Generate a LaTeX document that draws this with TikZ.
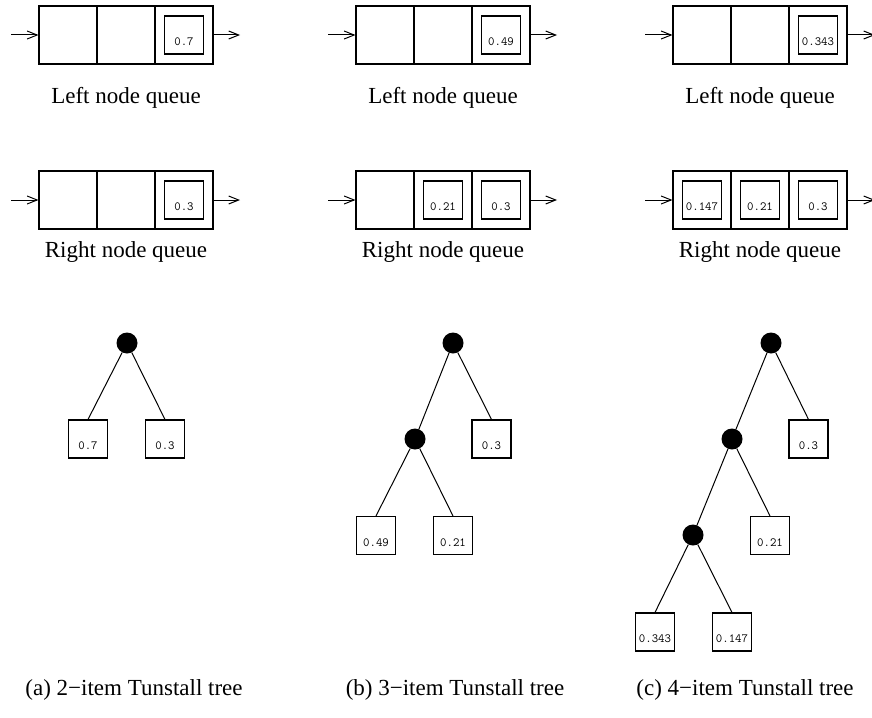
\documentclass[tikz,border=0pt]{standalone}
\usepackage{fontspec}
\setmainfont{Liberation Serif}
\usetikzlibrary{arrows.meta}
\tikzset{
  cell/.style={draw, line width=1.1pt, minimum width=58pt, minimum height=58pt, inner sep=0pt},
  vbox/.style={draw, line width=1.1pt, minimum width=39pt, minimum height=38pt, inner sep=0pt,
    label={[val, yshift=-7pt]center:#1}},
  val/.style={font=\ttfamily\fontsize{12.5}{14}\selectfont, inner sep=0pt},
  inner/.style={circle, fill=black, minimum size=21pt, inner sep=0pt},
  edge/.style={line width=1pt},
  arr/.style={line width=1pt, -{Straight Barb[length=10pt, width=8pt, line width=1pt]}},
  qlabel/.style={font=\fontsize{23}{27}\selectfont, inner sep=0pt},
  caption/.style={font=\fontsize{23}{27}\selectfont, inner sep=0pt}
}
\begin{document}
\begin{tikzpicture}[x=1pt, y=-1pt]
\useasboundingbox (0,0) rectangle (872,717);

% ===== (a) =====
\node[cell] (aL1) at (68,35) {};
\node[cell] (aL2) at (126,35) {};
\node[cell] (aL3) at (184,35) {};
\node[vbox=0.7] (aLv3) at (184,35) {};
\coordinate (aLin) at (11,35);
\coordinate (aLout) at (240,35);
\draw[arr] (aLin) -- (aL1.west);
\draw[arr] (aL3.east) -- (aLout);
\node[qlabel] (aLlab) at (126,98) {Left node queue};

\node[cell] (aR1) at (68,200) {};
\node[cell] (aR2) at (126,200) {};
\node[cell] (aR3) at (184,200) {};
\node[vbox=0.3] (aRv3) at (184,200) {};
\coordinate (aRin) at (11,200);
\coordinate (aRout) at (240,200);
\draw[arr] (aRin) -- (aR1.west);
\draw[arr] (aR3.east) -- (aRout);
\node[qlabel] (aRlab) at (126,252) {Right node queue};

\node[inner] (ar) at (127,343) {};
\node[vbox=0.7] (aa) at (88,439) {};
\node[vbox=0.3] (ab) at (165,439) {};
\draw[edge] (ar) -- (aa.north);
\draw[edge] (ar) -- (ab.north);
\node[caption] (acap) at (134,690) {(a) 2−item Tunstall tree};

% ===== (b) =====
\node[cell] (bL1) at (385,35) {};
\node[cell] (bL2) at (443,35) {};
\node[cell] (bL3) at (501,35) {};
\node[vbox=0.49] (bLv3) at (501,35) {};
\coordinate (bLin) at (328,35);
\coordinate (bLout) at (557,35);
\draw[arr] (bLin) -- (bL1.west);
\draw[arr] (bL3.east) -- (bLout);
\node[qlabel] (bLlab) at (443,98) {Left node queue};

\node[cell] (bR1) at (385,200) {};
\node[cell] (bR2) at (443,200) {};
\node[cell] (bR3) at (501,200) {};
\node[vbox=0.21] (bRv2) at (443,200) {};
\node[vbox=0.3] (bRv3) at (501,200) {};
\coordinate (bRin) at (328,200);
\coordinate (bRout) at (557,200);
\draw[arr] (bRin) -- (bR1.west);
\draw[arr] (bR3.east) -- (bRout);
\node[qlabel] (bRlab) at (443,252) {Right node queue};

\node[inner] (br) at (453,343) {};
\node[inner] (bi) at (415,439) {};
\node[vbox=0.3] (bc) at (491.5,439) {};
\node[vbox=0.49] (ba) at (376,535.5) {};
\node[vbox=0.21] (bb) at (453,535.5) {};
\draw[edge] (br) -- (bi);
\draw[edge] (br) -- (bc.north);
\draw[edge] (bi) -- (ba.north);
\draw[edge] (bi) -- (bb.north);
\node[caption] (bcap) at (455,690) {(b) 3−item Tunstall tree};

% ===== (c) =====
\node[cell] (cL1) at (702,35) {};
\node[cell] (cL2) at (760,35) {};
\node[cell] (cL3) at (818,35) {};
\node[vbox=0.343] (cLv3) at (818,35) {};
\coordinate (cLin) at (645,35);
\coordinate (cLout) at (875,35);
\draw[arr] (cLin) -- (cL1.west);
\draw[arr] (cL3.east) -- (cLout);
\node[qlabel] (cLlab) at (760,98) {Left node queue};

\node[cell] (cR1) at (702,200) {};
\node[cell] (cR2) at (760,200) {};
\node[cell] (cR3) at (818,200) {};
\node[vbox=0.147] (cRv1) at (702,200) {};
\node[vbox=0.21] (cRv2) at (760,200) {};
\node[vbox=0.3] (cRv3) at (818,200) {};
\coordinate (cRin) at (645,200);
\coordinate (cRout) at (875,200);
\draw[arr] (cRin) -- (cR1.west);
\draw[arr] (cR3.east) -- (cRout);
\node[qlabel] (cRlab) at (760,252) {Right node queue};

\node[inner] (cr) at (771,343) {};
\node[inner] (ci1) at (732,439) {};
\node[inner] (ci2) at (693,535) {};
\node[vbox=0.3] (cd) at (808.5,439) {};
\node[vbox=0.21] (cc) at (770,535.5) {};
\node[vbox=0.343] (ca) at (655,632) {};
\node[vbox=0.147] (cb) at (732,632) {};
\draw[edge] (cr) -- (ci1);
\draw[edge] (cr) -- (cd.north);
\draw[edge] (ci1) -- (ci2);
\draw[edge] (ci1) -- (cc.north);
\draw[edge] (ci2) -- (ca.north);
\draw[edge] (ci2) -- (cb.north);
\node[caption] (ccap) at (745,690) {(c) 4−item Tunstall tree};
\end{tikzpicture}
\end{document}
